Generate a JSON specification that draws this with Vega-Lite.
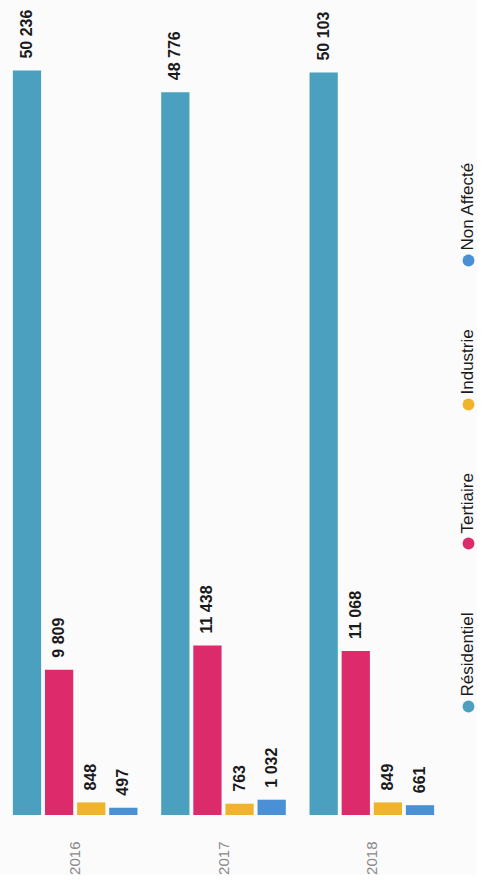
{
  "$schema": "https://vega.github.io/schema/vega-lite/v6.json",
  "width": 445,
  "height": 815,
  "padding": {"left": 1, "top": 0, "right": 0, "bottom": 0},
  "background": "#fbfbfb",
  "data": {
    "values": [
      {"annee": "2016", "secteur": "Résidentiel", "valeur": 50236, "label": "50 236"},
      {"annee": "2016", "secteur": "Tertiaire", "valeur": 9809, "label": "9 809"},
      {"annee": "2016", "secteur": "Industrie", "valeur": 848, "label": "848"},
      {"annee": "2016", "secteur": "Non Affecté", "valeur": 497, "label": "497"},
      {"annee": "2017", "secteur": "Résidentiel", "valeur": 48776, "label": "48 776"},
      {"annee": "2017", "secteur": "Tertiaire", "valeur": 11438, "label": "11 438"},
      {"annee": "2017", "secteur": "Industrie", "valeur": 763, "label": "763"},
      {"annee": "2017", "secteur": "Non Affecté", "valeur": 1032, "label": "1 032"},
      {"annee": "2018", "secteur": "Résidentiel", "valeur": 50103, "label": "50 103"},
      {"annee": "2018", "secteur": "Tertiaire", "valeur": 11068, "label": "11 068"},
      {"annee": "2018", "secteur": "Industrie", "valeur": 849, "label": "849"},
      {"annee": "2018", "secteur": "Non Affecté", "valeur": 661, "label": "661"}
    ]
  },
  "encoding": {
    "x": {
      "field": "annee", "type": "nominal",
      "scale": {"paddingInner": 0.16, "paddingOuter": 0.08},
      "axis": {"title": null, "labelAngle": -90, "domain": false, "ticks": false, "labelPadding": 26,
               "labelFontSize": 15, "labelColor": "#8a8a8a", "labelFont": "Liberation Sans"}
    },
    "xOffset": {"field": "secteur", "type": "nominal", "sort": ["Résidentiel", "Tertiaire", "Industrie", "Non Affecté"],
                "scale": {"paddingInner": 0.12}},
    "y": {"field": "valeur", "type": "quantitative", "scale": {"domain": [0, 55000]}, "axis": null}
  },
  "layer": [
    {
      "mark": {"type": "bar"},
      "encoding": {
        "color": {
          "field": "secteur", "type": "nominal",
          "scale": {"domain": ["Non Affecté", "Industrie", "Tertiaire", "Résidentiel"],
                    "range": ["#4b8fd4", "#f0b42c", "#dc2a6b", "#4aa0be"]},
          "legend": {
            "title": null, "orient": "none", "legendX": 459, "legendY": 252, "direction": "vertical",
            "symbolType": "circle", "symbolSize": 140, "symbolStrokeWidth": 0,
            "labelFontSize": 17, "labelFont": "Liberation Sans", "labelColor": "#1a1a1a",
            "labelOffset": -6, "rowPadding": 62, "padding": 0, "labelLimit": 300,
            "encode": {"labels": {"update": {"angle": {"value": -90}, "dx": {"value": 10}, "dy": {"value": -3}}}}
          }
        }
      }
    },
    {
      "mark": {"type": "text", "angle": 270, "align": "left", "baseline": "middle", "dx": 12,
               "font": "Liberation Sans", "fontSize": 16, "fontWeight": "bold", "color": "#1a1a1a"},
      "encoding": {"text": {"field": "label"}}
    }
  ],
  "config": {"view": {"stroke": null}}
}
